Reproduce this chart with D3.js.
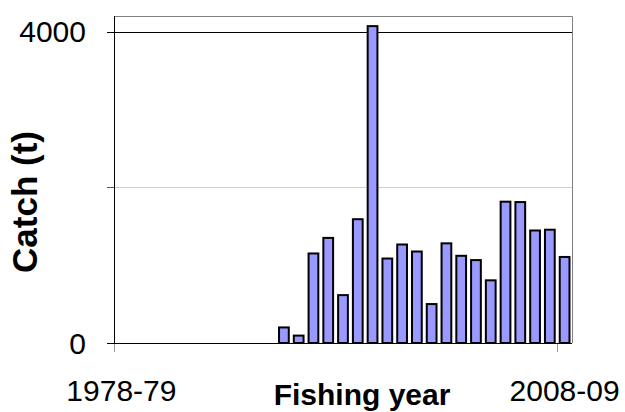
<!DOCTYPE html>
<html>
<head>
<meta charset="utf-8">
<script src="https://cdn.jsdelivr.net/npm/d3@7"></script>
<style>
  body { margin: 0; background: #fff; }
  text { font-family: "Liberation Sans", Arial, sans-serif; fill: #000; }
</style>
</head>
<body>
<svg id="chart" width="625" height="412"></svg>
<script>
// fishing years on the category axis
var seasons = ["1978-79","1979-80","1980-81","1981-82","1982-83","1983-84","1984-85",
  "1985-86","1986-87","1987-88","1988-89","1989-90","1990-91","1991-92","1992-93",
  "1993-94","1994-95","1995-96","1996-97","1997-98","1998-99","1999-00","2000-01",
  "2001-02","2002-03","2003-04","2004-05","2005-06","2006-07","2007-08","2008-09"];

// years with reported catch and the catch (t)
var catchYears = ["1989-90","1990-91","1991-92","1992-93","1993-94","1994-95","1995-96",
  "1996-97","1997-98","1998-99","1999-00","2000-01","2001-02","2002-03","2003-04",
  "2004-05","2005-06","2006-07","2007-08","2008-09"];
var catchValues = [200, 95, 1150, 1350, 615, 1590, 4070, 1085, 1265, 1175, 500, 1280,
  1120, 1065, 805, 1815, 1810, 1445, 1455, 1105];

var yTicks = [0, 2000, 4000];
var yTickLabels = ["0", "", "4000"];
var xTickLabels = ["1978-79", "2008-09"];

function drawChart() {
  var svg = d3.select("#chart"),
      pLeft = 114, pRight = 572, pTop = 16, pBottom = 343;

  var x = d3.scaleBand().domain(seasons).range([pLeft, pRight]).paddingInner(0.34).paddingOuter(0.17);
  var y = d3.scaleLinear().domain([0, 4200]).range([pBottom, pTop]);
  var step = x.step();

  // gridlines
  svg.append("g").selectAll("line")
    .data(yTicks.filter(function(d) { return d > 0; }))
    .enter().append("line")
    .attr("x1", pLeft).attr("x2", pRight)
    .attr("y1", function(d) { return Math.round(y(d)) + 0.5; })
    .attr("y2", function(d) { return Math.round(y(d)) + 0.5; })
    .attr("stroke", function(d) { return d == 4000 ? "#000" : "#c8d0dc"; });

  // plot frame (top and right)
  svg.append("path")
    .attr("d", "M" + pLeft + "," + (pTop + 0.5) + "H" + (pRight + 0.5) + "V" + pBottom)
    .attr("fill", "none").attr("stroke", "#808080");

  // bars
  svg.append("g").selectAll("rect")
    .data(catchYears.map(function(s, i) { return {season: s, value: catchValues[i]}; }))
    .enter().append("rect")
    .attr("x", function(d) { return x(d.season); })
    .attr("width", x.bandwidth())
    .attr("y", function(d) { return y(d.value); })
    .attr("height", function(d) { return y(0) - y(d.value); })
    .attr("fill", "#9999ff")
    .attr("stroke", "#000")
    .attr("stroke-width", 2);

  // y axis
  svg.append("line")
    .attr("x1", pLeft + 0.5).attr("x2", pLeft + 0.5).attr("y1", pTop).attr("y2", pBottom)
    .attr("stroke", "#000");
  svg.append("g").selectAll("line")
    .data(yTicks).enter().append("line")
    .attr("x1", pLeft - 7).attr("x2", pLeft)
    .attr("y1", function(d) { return Math.round(y(d)) + 0.5; })
    .attr("y2", function(d) { return Math.round(y(d)) + 0.5; })
    .attr("stroke", function(d) { return d == 2000 ? "#555" : "#000"; });
  svg.append("g").selectAll("text")
    .data(yTicks).enter().append("text")
    .attr("x", 86)
    .attr("y", function(d) { return y(d); })
    .attr("dy", "0.36em")
    .attr("text-anchor", "end")
    .style("font-size", "30px")
    .text(function(d, i) { return yTickLabels[i]; });

  // x axis, ticks sit on the left edge of the labelled categories
  svg.append("line")
    .attr("x1", pLeft).attr("x2", pRight).attr("y1", pBottom + 0.5).attr("y2", pBottom + 0.5)
    .attr("stroke", "#000");
  svg.append("g").selectAll("line")
    .data(xTickLabels).enter().append("line")
    .attr("x1", function(d) { return Math.round(pLeft + seasons.indexOf(d) * step) + 0.5; })
    .attr("x2", function(d) { return Math.round(pLeft + seasons.indexOf(d) * step) + 0.5; })
    .attr("y1", pBottom + 1).attr("y2", pBottom + 9)
    .attr("stroke", "#999");
  svg.append("g").selectAll("text")
    .data(xTickLabels).enter().append("text")
    .attr("x", function(d) { return x(d) + x.bandwidth() / 2; })
    .attr("y", 401)
    .attr("text-anchor", "middle")
    .style("font-size", "30px")
    .text(function(d) { return d; });

  // axis titles
  svg.append("text")
    .attr("x", 362).attr("y", 405)
    .attr("text-anchor", "middle")
    .style("font-size", "30px").style("font-weight", "bold")
    .text("Fishing year");
  svg.append("text")
    .attr("transform", "translate(37,202) rotate(-90)")
    .attr("text-anchor", "middle")
    .style("font-size", "35px").style("font-weight", "bold")
    .text("Catch (t)");
}

drawChart();
</script>
</body>
</html>
